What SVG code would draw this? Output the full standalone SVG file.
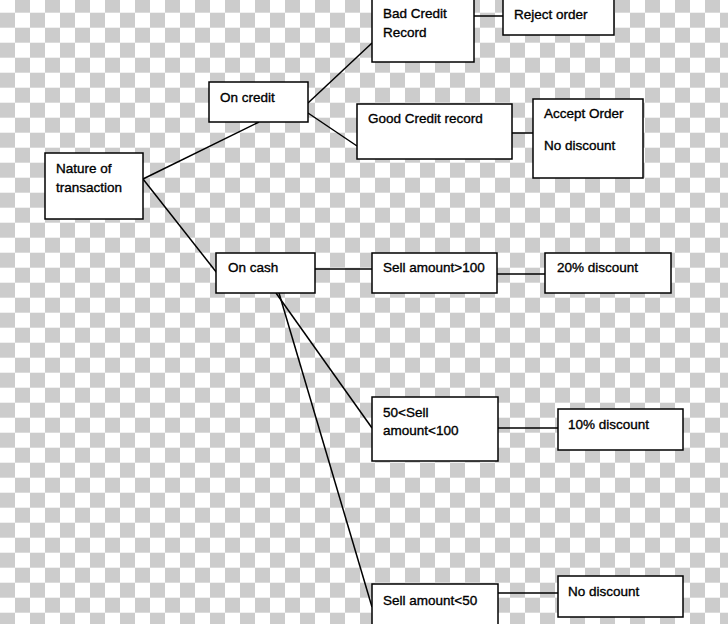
<svg xmlns="http://www.w3.org/2000/svg" width="728" height="624" viewBox="0 0 728 624">
  <defs>
    <pattern id="checker" x="0" y="-2.3" width="30" height="30" patternUnits="userSpaceOnUse">
      <rect x="0" y="0" width="30" height="30" fill="#ffffff"/>
      <rect x="15" y="0" width="15" height="15" fill="#cccccc"/>
      <rect x="0" y="15" width="15" height="15" fill="#cccccc"/>
    </pattern>
  </defs>
  <style>
    .box { fill: #ffffff; stroke: #000000; stroke-width: 1.5; }
    .lbl { font-family: "Liberation Sans", Arial, sans-serif; font-size: 13.5px; fill: #000000; stroke: #000000; stroke-width: 0.35; }
    .conn line { stroke: #000000; stroke-width: 1.5; }
  </style>
  <rect x="0" y="0" width="728" height="624" fill="url(#checker)"/>

  <g id="connectors" class="conn">
    <line x1="143" y1="179" x2="259" y2="122"/>
    <line x1="143" y1="179" x2="217" y2="273"/>
    <line x1="308" y1="103" x2="372" y2="43"/>
    <line x1="308" y1="113" x2="357" y2="146"/>
    <line x1="474" y1="16" x2="503" y2="16"/>
    <line x1="512" y1="133" x2="533" y2="133"/>
    <line x1="315" y1="269" x2="372" y2="269"/>
    <line x1="497" y1="274" x2="545" y2="274"/>
    <line x1="276" y1="293" x2="372" y2="428"/>
    <line x1="279" y1="293" x2="372" y2="607"/>
    <line x1="498" y1="428" x2="558" y2="428"/>
    <line x1="498" y1="593" x2="558" y2="593"/>
  </g>

  <g id="nature">
    <rect class="box" x="45" y="153" width="98" height="66"/>
    <text class="lbl" x="56" y="173">Nature of</text>
    <text class="lbl" x="56" y="192">transaction</text>
  </g>
  <g id="on-credit">
    <rect class="box" x="209" y="82" width="99" height="40"/>
    <text class="lbl" x="220" y="102">On credit</text>
  </g>
  <g id="bad-credit">
    <rect class="box" x="372" y="-2" width="102" height="64"/>
    <text class="lbl" x="383" y="18">Bad Credit</text>
    <text class="lbl" x="383" y="37">Record</text>
  </g>
  <g id="reject">
    <rect class="box" x="503" y="-2" width="111" height="37"/>
    <text class="lbl" x="514" y="19">Reject order</text>
  </g>
  <g id="good-credit">
    <rect class="box" x="357" y="104" width="155" height="55"/>
    <text class="lbl" x="368" y="123">Good Credit record</text>
  </g>
  <g id="accept">
    <rect class="box" x="533" y="99" width="110" height="79"/>
    <text class="lbl" x="544" y="118">Accept Order</text>
    <text class="lbl" x="544" y="150">No discount</text>
  </g>
  <g id="on-cash">
    <rect class="box" x="216" y="253" width="99" height="40"/>
    <text class="lbl" x="228" y="272">On cash</text>
  </g>
  <g id="sell-gt-100">
    <rect class="box" x="372" y="253" width="125" height="40"/>
    <text class="lbl" x="383" y="272">Sell amount&gt;100</text>
  </g>
  <g id="disc-20">
    <rect class="box" x="545" y="253" width="126" height="40"/>
    <text class="lbl" x="557" y="272">20% discount</text>
  </g>
  <g id="sell-50-100">
    <rect class="box" x="372" y="397" width="126" height="64"/>
    <text class="lbl" x="383" y="417">50&lt;Sell</text>
    <text class="lbl" x="383" y="435">amount&lt;100</text>
  </g>
  <g id="disc-10">
    <rect class="box" x="558" y="409" width="125" height="41"/>
    <text class="lbl" x="568" y="429">10% discount</text>
  </g>
  <g id="sell-lt-50">
    <rect class="box" x="372" y="584" width="126" height="44"/>
    <text class="lbl" x="383" y="605">Sell amount&lt;50</text>
  </g>
  <g id="no-discount">
    <rect class="box" x="558" y="576" width="125" height="41"/>
    <text class="lbl" x="568" y="596">No discount</text>
  </g>
</svg>
